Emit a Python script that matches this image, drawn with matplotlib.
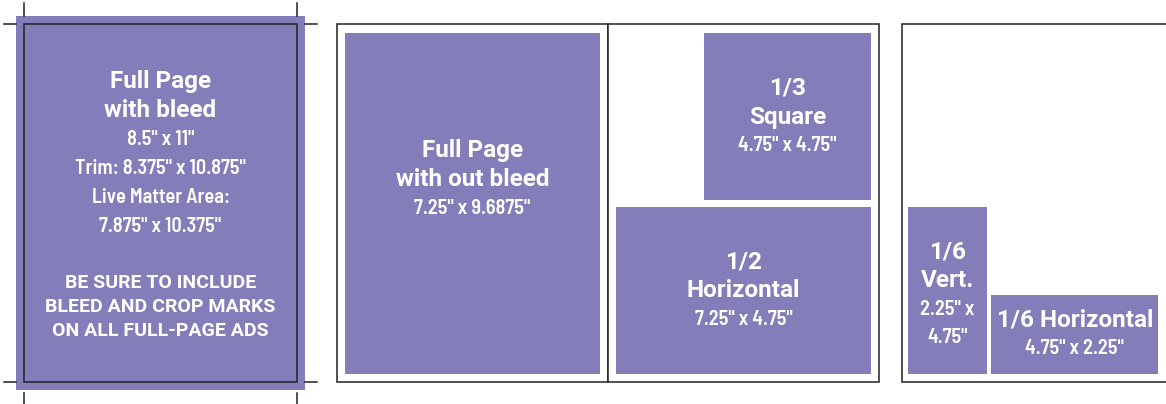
import matplotlib.pyplot as plt
from matplotlib.patches import Rectangle

# ad specs (inches) and labels
ad_titles = ["Full Page\nwith out bleed", "1/3\nSquare", "1/2\nHorizontal", "1/6\nVert.", "1/6 Horizontal"]
ad_dims = ['7.25" x 9.6875"', '4.75" x 4.75"', '7.25" x 4.75"', '2.25" x\n4.75"', '4.75" x 2.25"']
ad_w = [7.25, 4.75, 7.25, 2.25, 4.75]
ad_h = [9.6875, 4.75, 4.75, 4.75, 2.25]

bleed_title = "Full Page\nwith bleed"
bleed_dims = ['8.5" x 11"', 'Trim: 8.375" x 10.875"', 'Live Matter Area:', '7.875" x 10.375"']
bleed_note = "BE SURE TO INCLUDE\nBLEED AND CROP MARKS\nON ALL FULL-PAGE ADS"
bleed_w, bleed_h = 8.5, 11

PURPLE = '#837db9'
EDGE = '#222222'
TITLE = dict(family=['Roboto', 'DejaVu Sans'], weight='bold', size=17.5, color='white')
DIMS = dict(family=['Barlow Semi Condensed', 'DejaVu Sans'], weight=600, size=14.6, color='white')
NOTE = dict(family=['Roboto', 'DejaVu Sans'], weight='bold', size=14, color='white')

fig = plt.figure(figsize=(11.66, 4.04), dpi=100)
ax = fig.add_axes([0, 0, 1, 1])
ax.set_xlim(0, 1166)
ax.set_ylim(404, 0)
ax.axis('off')


def block(cx, cy, lines):
    # lines: (text, style, line height)
    total = sum(h for _, _, h in lines)
    y = cy - total / 2
    for txt, st, h in lines:
        if txt:
            ax.text(cx, y + h / 2, txt, ha='center', va='center', **st)
        y += h


def expand(text, st, h):
    return [(t, st, h) for t in text.split('\n')]


# panel 1: full page with bleed
s1 = 34.0
bx, by = 16, 16
bw, bh = bleed_w * s1, bleed_h * s1
ax.add_patch(Rectangle((bx, by), bw, bh, facecolor=PURPLE, edgecolor='none'))
inset = 8
ax.add_patch(Rectangle((bx + inset, by + inset), bw - 2 * inset, bh - 2 * inset,
                       facecolor='none', edgecolor=EDGE, lw=1.1))
# crop marks
for x in (bx + inset, bx + bw - inset):
    ax.plot([x, x], [3, by], color=EDGE, lw=1.1)
    ax.plot([x, x], [by + bh + 3, 404], color=EDGE, lw=1.1)
for y in (by + inset, by + bh - inset):
    ax.plot([4, bx], [y, y], color=EDGE, lw=1.1)
    ax.plot([bx + bw, bx + bw + 12], [y, y], color=EDGE, lw=1.1)

lines = expand(bleed_title, TITLE, 29) + [(t, DIMS, 29) for t in bleed_dims]
lines += [("", DIMS, 30)] + expand(bleed_note, NOTE, 24)
block(bx + bw / 2, by + bh / 2 + 2, lines)

# pages
page_x = [337, 608, 902]
page_y, page_w, page_h = 24, 271, 358
for px in page_x:
    ax.add_patch(Rectangle((px, page_y), page_w, page_h, facecolor='white',
                           edgecolor=EDGE, lw=1.1, zorder=1))

s = 35.2
m = 8
# (page, horizontal anchor, vertical anchor, text offset)
placement = [(0, 'center', 'center', -24), (1, 'right', 'top', 0), (1, 'left', 'bottom', 0),
             (2, 'left', 'bottom', 4), (2, 'next', 'bottom', 0)]
prev_right = 0
for i, (p, ha, va, off) in enumerate(placement):
    w, h = ad_w[i] * s, ad_h[i] * s
    px = page_x[p]
    if ha == 'center':
        x = px + (page_w - w) / 2
    elif ha == 'right':
        x = px + page_w - m - w
    elif ha == 'next':
        x = prev_right + 4
    else:
        x = px + (6 if p == 2 else m)
    if va == 'center':
        y = page_y + (page_h - h) / 2
    elif va == 'top':
        y = page_y + m + 1
    else:
        y = page_y + page_h - m - h
    prev_right = x + w
    ax.add_patch(Rectangle((x, y), w, h, facecolor=PURPLE, edgecolor='none', zorder=2))
    lines = expand(ad_titles[i], TITLE, 29) + expand(ad_dims[i], DIMS, 28)
    block(x + w / 2, y + h / 2 + off, lines)

plt.savefig('out.png', dpi=100)
